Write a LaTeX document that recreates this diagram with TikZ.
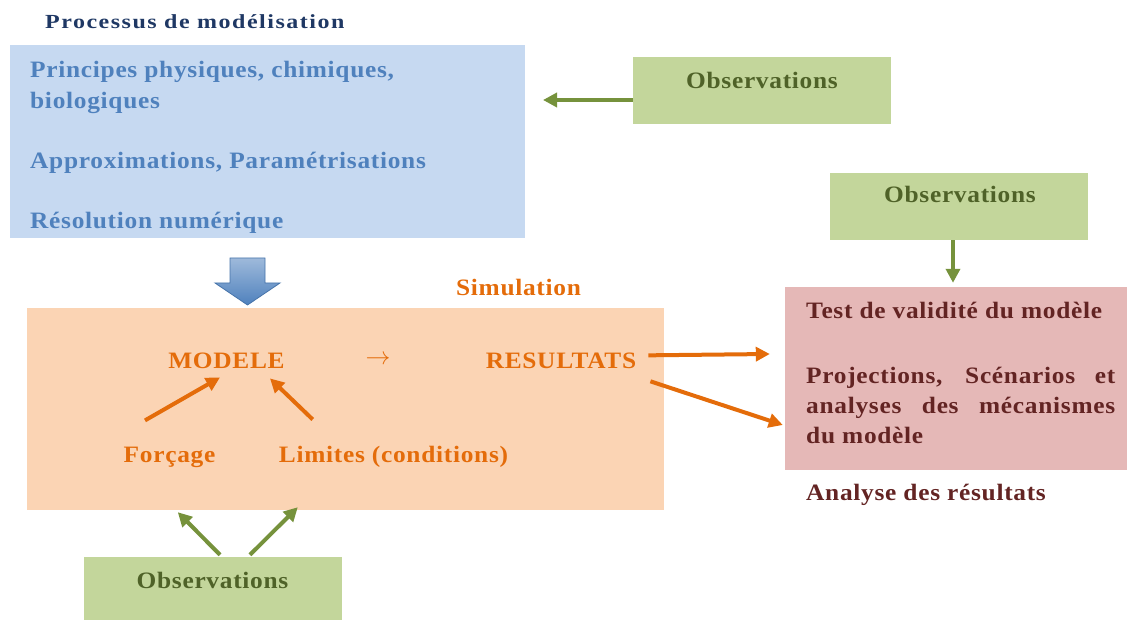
\documentclass[tikz,border=0pt]{standalone}
\usepackage{fontspec}
\setmainfont{Liberation Serif}
\newfontfamily\bodyfont[FakeStretch=1.08, LetterSpace=3]{Liberation Serif}
\newfontfamily\headfont[FakeStretch=1.2, LetterSpace=7.5]{Liberation Serif}
\usetikzlibrary{arrows.meta}

\definecolor{titleblue}{HTML}{1F3864}
\definecolor{procfill}{HTML}{C6D9F1}
\definecolor{proctext}{HTML}{4F81BD}
\definecolor{obsfill}{HTML}{C3D69B}
\definecolor{obstext}{HTML}{4F6228}
\definecolor{obsline}{HTML}{76923C}
\definecolor{simfill}{HTML}{FBD4B4}
\definecolor{simtext}{HTML}{E46C0A}
\definecolor{anafill}{HTML}{E5B8B7}
\definecolor{anatext}{HTML}{632423}

\begin{document}
\begin{tikzpicture}
[x=1pt, y=-1pt,
 every node/.style={inner sep=0pt, font=\bodyfont\bfseries\fontsize{23.5}{30}\selectfont},
 procline/.style={anchor=base west, text=proctext},
 obsbox/.style={fill=obsfill, minimum width=258pt, minimum height=67pt},
 obslabel/.style={anchor=base, text=obstext},
 simlabel/.style={anchor=base, text=simtext},
 analabel/.style={anchor=base west, text=anatext},
 greenarrow/.style={line width=4pt, draw=obsline, -{Triangle[length=14pt, width=14pt]}},
 orangearrow/.style={line width=4pt, draw=simtext, -{Triangle[length=14pt, width=14pt]}}]
\useasboundingbox (0,0) rectangle (1128,620);

% processus de modelisation
\node (titre) [anchor=base west, text=titleblue, font=\headfont\bfseries\fontsize{20}{24}\selectfont]
  at (45,29) {Processus de modélisation};
\node (proc) [fill=procfill, minimum width=515pt, minimum height=193pt] at (267.5,141.5) {};
\node (princ) [procline] at (30,78) {Principes physiques, chimiques,};
\node (bio) [procline] at (30,108.5) {biologiques};
\node (approx) [procline] at (30,169) {Approximations, Paramétrisations};
\node (resol) [procline] at (30,228.5) {Résolution numérique};

\node (obs1) [obsbox] at (762,91) {};
\node (obs1txt) [obslabel] at (762,89) {Observations};
\coordinate (obs1end) at (543,100);
\draw [greenarrow] ([shift={(0,9)}]obs1.west) -- (obs1end);

% fleche vers la simulation
\shade [top color=proctext!55, bottom color=proctext, draw=proctext!90!black, line width=0.8pt]
  (230,258) -- (265,258) -- (265,283) -- (280,283) -- (247.5,305) -- (215,283) -- (230,283) -- cycle;

% simulation
\node (simtitre) [simlabel] at (518.5,296) {Simulation};
\node (sim) [fill=simfill, minimum width=637pt, minimum height=202pt] at (345.5,409) {};
\node (modele) [simlabel] at (226.5,369) {MODELE};
\node (fleche) [text=simtext, font=\fontsize{24}{24}\selectfont] at (378,360) {$\rightarrow$};
\node (result) [simlabel] at (561,369) {RESULTATS};
\node (forc) [simlabel] at (169.5,462) {Forçage};
\node (limites) [simlabel] at (393.5,462) {Limites (conditions)};
\draw [orangearrow] ([shift={(-24.5,-26)}]forc.north) -- ([shift={(-6.5,8)}]modele.south);
\draw [orangearrow] ([shift={(34,-26)}]limites.north west) -- ([shift={(43.5,9)}]modele.south);

\node (obs3) [obsbox, minimum height=63pt] at (212.5,588.5) {};
\node (obs3txt) [obslabel] at (212.5,588) {Observations};
\draw [greenarrow] ([shift={(7.5,-2)}]obs3.north) -- ([shift={(151,2)}]sim.south west);
\draw [greenarrow] ([shift={(37.5,-2)}]obs3.north) -- ([shift={(271,-3)}]sim.south west);

% analyse des resultats
\node (ana) [fill=anafill, minimum width=342pt, minimum height=183pt] at (956,378.5) {};
\node (test) [analabel] at (806,319) {Test de validité du modèle};
\node (proj) [anchor=north west, text=anatext, text width=309pt, align=justify] at (806,367)
  {Projections, Scénarios et\linebreak analyses des mécanismes\linebreak du modèle};
\node (anatitre) [analabel] at (806,500) {Analyse des résultats};

\node (obs2) [obsbox] at (959,206.5) {};
\node (obs2txt) [obslabel] at (960,203) {Observations};
\draw [greenarrow] ([shift={(-6,0)}]obs2.south) -- ([shift={(-3,-4)}]ana.north);

\draw [orangearrow] ([shift={(12,-6)}]result.east) -- ([shift={(-15,-24.5)}]ana.west);
\draw [orangearrow] ([shift={(14,20)}]result.east) -- ([shift={(-2,46.5)}]ana.west);
\end{tikzpicture}
\end{document}
